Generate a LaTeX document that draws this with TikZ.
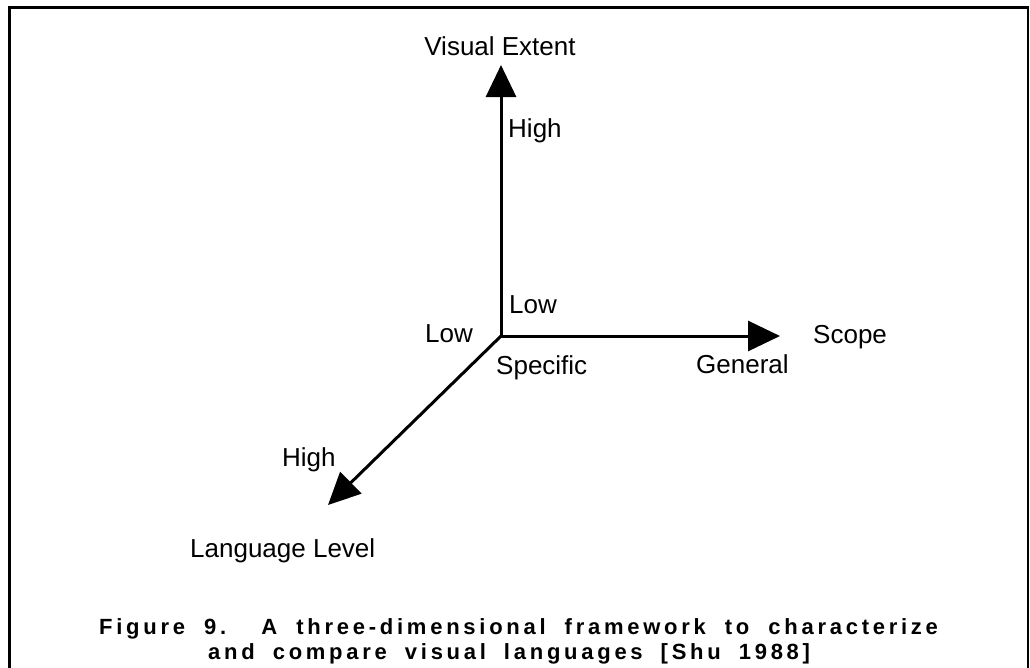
\documentclass[tikz,border=0pt]{standalone}
\usepackage{fontspec}
\setmainfont{Liberation Sans}
\usetikzlibrary{arrows.meta}
\begin{document}
\begin{tikzpicture}[x=1pt,y=-1pt,
  lbl/.style={inner sep=0pt, font=\fontsize{26}{30}\selectfont, anchor=base west},
  axisline/.style={line width=3pt, -{Triangle[length=32pt,width=30pt]}},
  frameline/.style={line width=2.5pt},
  captext/.style={inner sep=0pt, anchor=base west, font=\fontsize{22}{26}\selectfont\bfseries\addfontfeature{LetterSpace=17}}]
\useasboundingbox (0,0) rectangle (1030,667);
\clip (0,0) rectangle (1030,667);
\draw[frameline] (9.5,700) -- (9.5,7.5) -- (1028,7.5) -- (1028,700);
\coordinate (O) at (501,336);
\coordinate (V) at (501,65);
\coordinate (S) at (780,336);
\coordinate (L) at (328,505);
\draw[axisline] (O) -- (V);
\draw[axisline] (O) -- (S);
\draw[axisline] (O) -- (L);
\node[lbl, anchor=base] (ve) at (500,55) {Visual Extent};
\node[lbl] (vhigh) at (508,137) {High};
\node[lbl] (vlow) at (509,313) {Low};
\node[lbl] (llow) at (425,342) {Low};
\node[lbl] (spec) at (496,374) {Specific};
\node[lbl] (gen) at (696,373) {General};
\node[lbl] (scope) at (813,343) {Scope};
\node[lbl] (lhigh) at (282,466) {High};
\node[lbl] (ll) at (190,557) {Language Level};
\node[captext] (cap1) at (99,634) {\spaceskip=19pt\relax Figure 9.\hspace{13pt} A three-dimensional framework to characterize};
\node[captext] (cap2) at (208,659) {\spaceskip=18pt\relax and compare visual languages [Shu 1988]};
\end{tikzpicture}
\end{document}
